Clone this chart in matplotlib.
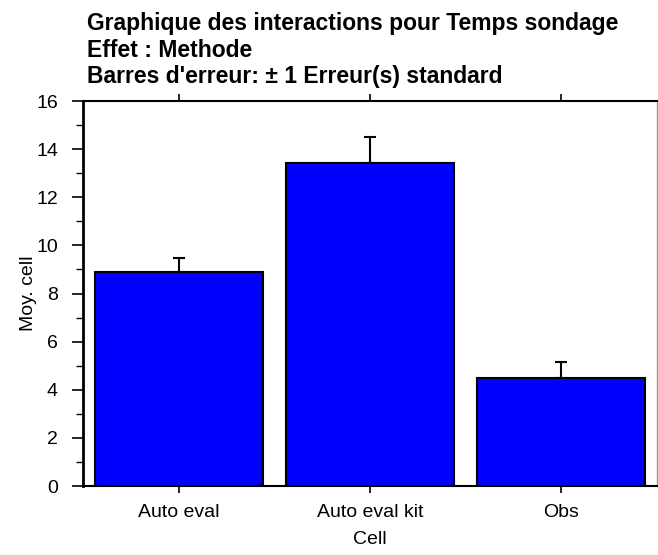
import numpy as np
import matplotlib.pyplot as plt
from matplotlib.ticker import MultipleLocator

plt.rcParams['font.family'] = ['Liberation Sans', 'DejaVu Sans']

# données
categories = ['Auto eval', 'Auto eval kit', 'Obs']
moyennes = [8.89, 13.42, 4.49]
erreurs = [0.58, 1.08, 0.66]

fig = plt.figure(figsize=(6.58, 5.55), dpi=100)
ax = fig.add_axes([0.126, 0.1243, 0.8725, 0.6937])

x = np.arange(len(categories))
ax.bar(x, moyennes, width=0.877, color='#0000ff', edgecolor='black', linewidth=1.5, zorder=2)
# barres d'erreur vers le haut seulement
ax.errorbar(x, moyennes, yerr=[np.zeros(len(erreurs)), erreurs], fmt='none',
            ecolor='black', elinewidth=1.5, capsize=4, capthick=1.5, zorder=1)

ax.set_xlim(-0.5, 2.5)
ax.set_ylim(0, 16)
ax.yaxis.set_major_locator(MultipleLocator(2))
ax.yaxis.set_minor_locator(MultipleLocator(1))
ax.set_xticks(x)
ax.set_xticklabels(categories, fontsize=14)
ax.tick_params(axis='y', which='major', length=8, width=1.2, labelsize=14, pad=10)
ax.tick_params(axis='y', which='minor', length=5, width=1.0)
ax.tick_params(axis='x', which='major', length=5, width=1.2, top=True, pad=8)

ax.spines['left'].set_linewidth(2)
for s in ['bottom', 'top']:
    ax.spines[s].set_linewidth(1.5)
ax.spines['right'].set_linewidth(1.0)
ax.spines['right'].set_color('#999999')

ax.set_ylabel('Moy. cell', fontsize=14)
ax.yaxis.set_label_coords(-0.08, 0.5)
ax.set_xlabel('Cell', fontsize=14, labelpad=7)

titres = ['Graphique des interactions pour Temps sondage',
          'Effet : Methode',
          "Barres d'erreur: \u00b1 1 Erreur(s) standard"]
lignes_base = [30, 57, 83.5]
for t, yb in zip(titres, lignes_base):
    fig.text(87 / 658, 1 - yb / 555, t, fontsize=16.5, fontweight='bold',
             ha='left', va='baseline')

fig.savefig('out.png', dpi=100)
